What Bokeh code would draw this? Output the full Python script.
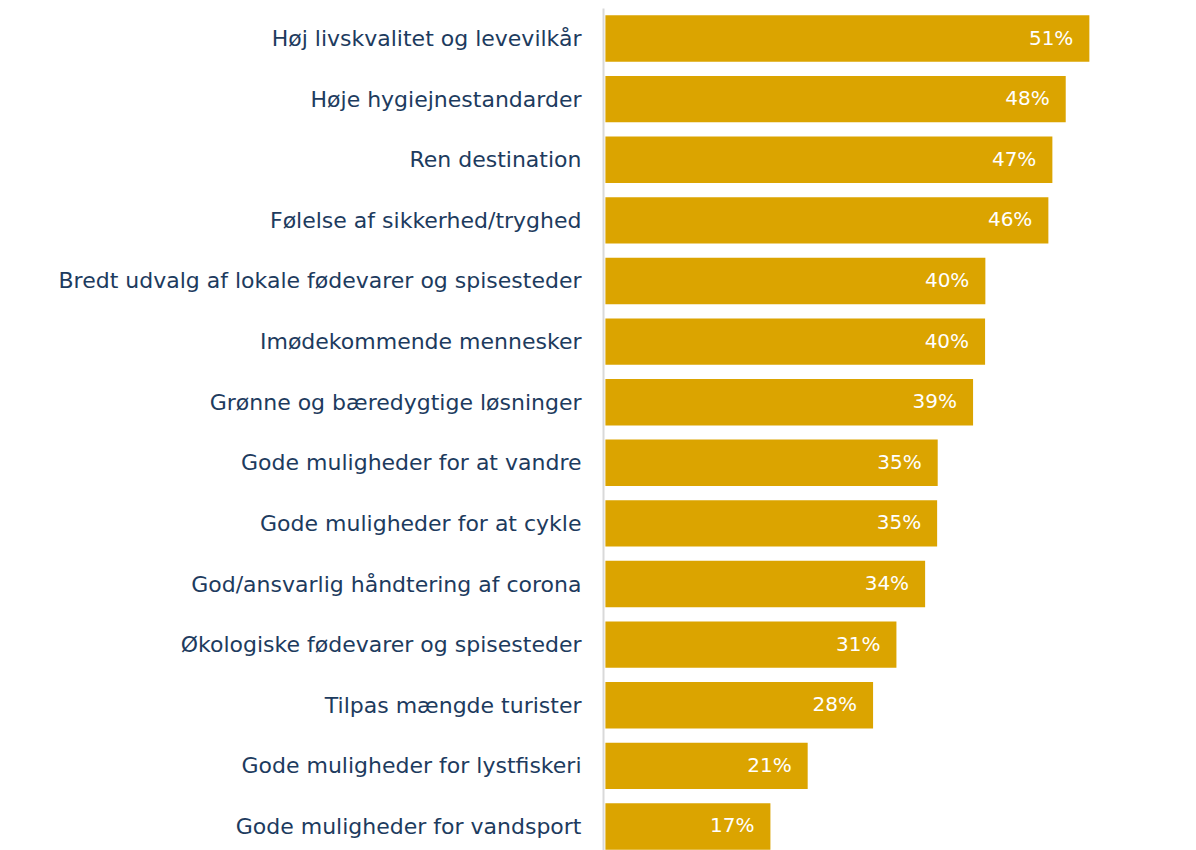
from bokeh.plotting import figure
from bokeh.models import Range1d, FixedTicker, ColumnDataSource
from bokeh.core.properties import value
from bokeh.embed import file_html
from bokeh.resources import INLINE

categories = [
    "Høj livskvalitet og levevilkår",
    "Høje hygiejnestandarder",
    "Ren destination",
    "Følelse af sikkerhed/tryghed",
    "Bredt udvalg af lokale fødevarer og spisesteder",
    "Imødekommende mennesker",
    "Grønne og bæredygtige løsninger",
    "Gode muligheder for at vandre",
    "Gode muligheder for at cykle",
    "God/ansvarlig håndtering af corona",
    "Økologiske fødevarer og spisesteder",
    "Tilpas mængde turister",
    "Gode muligheder for lystfiskeri",
    "Gode muligheder for vandsport",
]
values = [50.77, 48.29, 46.89, 46.47, 39.86, 39.83, 38.57, 34.86, 34.80, 33.54, 30.53, 28.08, 21.22, 17.31]

BAR = "#DBA400"
NAVY = "#1d3b5e"
FONT = "DejaVu Sans"

idx = list(range(len(categories)))
labels = [f"{round(v)}%" for v in values]
src = ColumnDataSource(dict(y=idx, v=values, lab=labels))

p = figure(width=1188, height=850, output_backend="svg", toolbar_location=None,
           x_range=Range1d(-0.2, 61.17), y_range=Range1d(13.396, -0.495),
           min_border_left=603, min_border_right=0, min_border_top=8, min_border_bottom=0)

p.hbar(y="y", left=0, right="v", height=0.765, source=src, fill_color=BAR, line_color=None)
p.text(x="v", y="y", text="lab", source=src, text_align="right", text_baseline="middle",
       x_offset=-16, y_offset=-1, text_color="white", text_font_size="20px", text_font=value(FONT))

p.xaxis.visible = False
p.xgrid.visible = False
p.ygrid.visible = False
p.outline_line_color = None

ya = p.yaxis[0]
ya.ticker = FixedTicker(ticks=idx)
ya.major_label_overrides = {i: c for i, c in zip(idx, categories)}
ya.major_tick_line_color = None
ya.minor_tick_line_color = None
ya.major_tick_out = 0
ya.major_tick_in = 0
ya.major_label_standoff = 22
ya.axis_line_color = "#d9d9d9"
ya.axis_line_width = 2
ya.major_label_text_font = FONT
ya.major_label_text_font_size = "22px"
ya.major_label_text_color = NAVY

open("out.html", "w").write(file_html(p, INLINE))
